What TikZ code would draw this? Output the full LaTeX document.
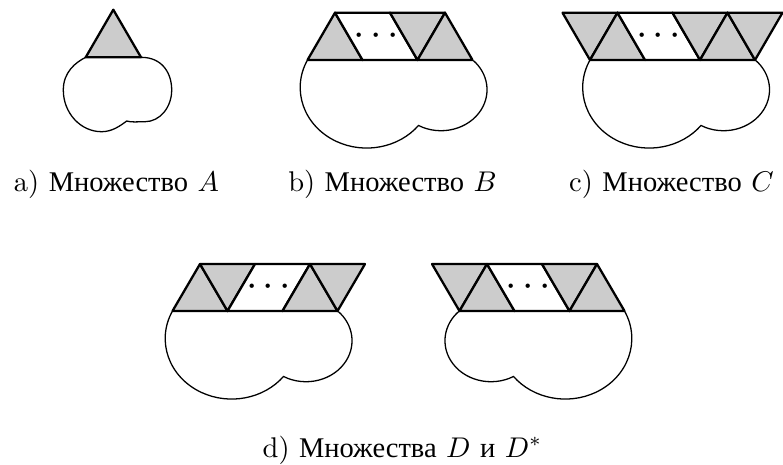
\documentclass[tikz,border=0pt]{standalone}
\usepackage{fontspec}
\newfontfamily\cyrfont{Liberation Serif}
\newcommand\cyrw[1]{{\cyrfont #1}}
\tikzset{
  tri/.style={fill=black!20, draw=black, line width=0.8pt, line join=round},
  para/.style={fill=white, draw=black, line width=0.8pt, line join=round},
  blob/.style={draw=black, line width=0.45pt},
  captxt/.style={anchor=base, inner sep=0pt, font=\fontsize{10}{12}\selectfont},
  dotsnode/.style={inner sep=0pt, font=\fontsize{14}{16}\selectfont}
}
\newcommand\dotrow{$\cdot$\hspace{1.9pt}$\cdot$\hspace{1.9pt}$\cdot$}
\newcommand\blobshape{%
  \draw[blob] (0,0) arc[start angle=207.1, end angle=38.8, x radius=66.5, y radius=60.5]
                    arc[start angle=119.3, end angle=-45.5, x radius=46, y radius=41];
}
\begin{document}
\begin{tikzpicture}[x=0.35088pt, y=-0.35088pt]
\useasboundingbox (0,0) rectangle (783,464);

% ---------- a) ----------
\coordinate (aL) at (85.7,57.3);
\coordinate (aR) at (141,57.3);
\coordinate (aT) at (113.3,9.7);
\draw[blob] (aL) .. controls (75.7,62.3) and (63.3,72) .. (63.3,90)
  .. controls (63.3,113) and (80.5,131.7) .. (101.7,131.7)
  .. controls (112,131.7) and (120,126) .. (126.7,121)
  .. controls (131,122.5) and (138,121.7) .. (145,121.7)
  .. controls (159.7,121.7) and (171.7,107.5) .. (171.7,90)
  .. controls (171.7,74) and (163,57.3) .. (aR);
\draw[tri] (aL) -- (aT) -- (aR) -- cycle;
\node[captxt] (capa) at (116.5,191.7) {a) \cyrw{Множество} $A$};

% ---------- b) ----------
\begin{scope}[shift={(307.5,60)}]\blobshape\end{scope}
\draw[tri] (307.5,60) -- (335,12.7) -- (362.5,60) -- cycle;
\draw[para] (335,12.7) -- (390,12.7) -- (417.5,60) -- (362.5,60) -- cycle;
\draw[tri] (390,12.7) -- (445,12.7) -- (417.5,60) -- cycle;
\draw[tri] (417.5,60) -- (445,12.7) -- (472.5,60) -- cycle;
\node[dotsnode] (dotsb) at (376.25,36) {\dotrow};
\node[captxt] (capb) at (392.5,191.7) {b) \cyrw{Множество} $B$};

% ---------- c) ----------
\begin{scope}[shift={(590,60)}]\blobshape\end{scope}
\draw[tri] (562.5,12.7) -- (617.5,12.7) -- (590,60) -- cycle;
\draw[tri] (590,60) -- (617.5,12.7) -- (645,60) -- cycle;
\draw[para] (617.5,12.7) -- (672.5,12.7) -- (700,60) -- (645,60) -- cycle;
\draw[tri] (672.5,12.7) -- (727.5,12.7) -- (700,60) -- cycle;
\draw[tri] (700,60) -- (727.5,12.7) -- (755,60) -- cycle;
\draw[tri] (727.5,12.7) -- (782.5,12.7) -- (755,60) -- cycle;
\node[dotsnode] (dotsc) at (658.75,36) {\dotrow};
\node[captxt] (capc) at (671.5,191.7) {c) \cyrw{Множество} $C$};

% ---------- d) left ----------
\begin{scope}[shift={(172.5,311)}]\blobshape\end{scope}
\draw[tri] (172.5,311) -- (200,264) -- (227.5,311) -- cycle;
\draw[tri] (200,264) -- (255,264) -- (227.5,311) -- cycle;
\draw[para] (227.5,311) -- (255,264) -- (310,264) -- (282.5,311) -- cycle;
\draw[tri] (282.5,311) -- (310,264) -- (337.5,311) -- cycle;
\draw[tri] (310,264) -- (365,264) -- (337.5,311) -- cycle;
\node[dotsnode] (dotsd) at (268.75,287.5) {\dotrow};

% ---------- d) right ----------
\begin{scope}[shift={(624.5,311)}, xscale=-1]\blobshape\end{scope}
\draw[tri] (432,264) -- (487,264) -- (459.5,311) -- cycle;
\draw[tri] (459.5,311) -- (487,264) -- (514.5,311) -- cycle;
\draw[para] (487,264) -- (542,264) -- (569.5,311) -- (514.5,311) -- cycle;
\draw[tri] (542,264) -- (597,264) -- (569.5,311) -- cycle;
\draw[tri] (569.5,311) -- (597,264) -- (624.5,311) -- cycle;
\node[dotsnode] (dotse) at (528.25,287.5) {\dotrow};

\node[captxt] (capd) at (402.5,457) {d) \cyrw{Множества} $D$ \cyrw{и} $D^*$};
\end{tikzpicture}
\end{document}
